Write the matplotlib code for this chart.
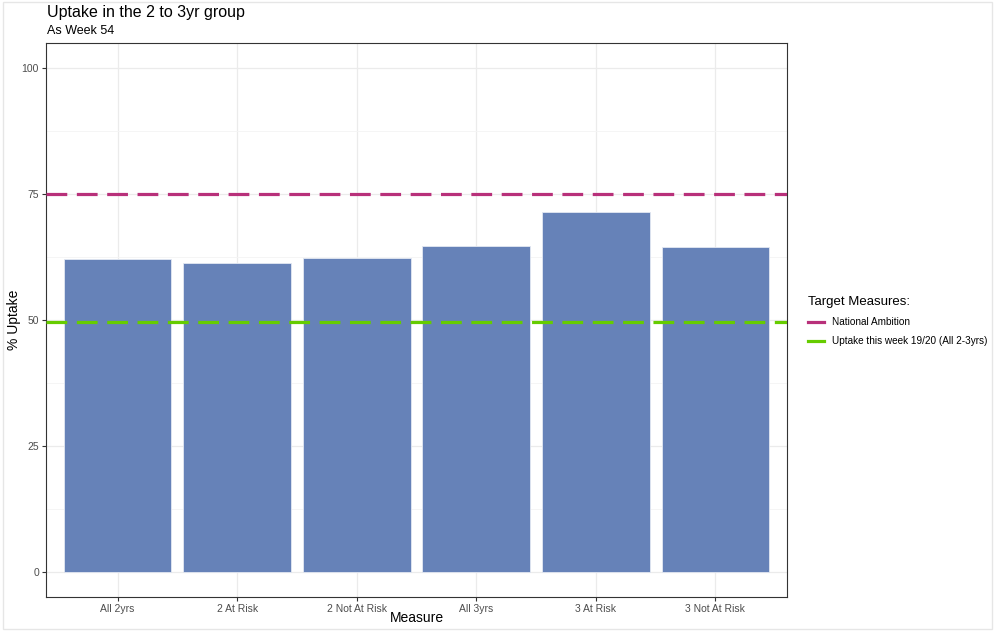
import matplotlib
matplotlib.use('Agg')
import matplotlib.pyplot as plt
from matplotlib.lines import Line2D
from matplotlib.patches import Rectangle

plt.rcParams['font.family'] = ['Liberation Sans', 'DejaVu Sans']

measures = ['All 2yrs', '2 At Risk', '2 Not At Risk', 'All 3yrs', '3 At Risk', '3 Not At Risk']
uptake = [62.2, 61.3, 62.3, 64.7, 71.4, 64.4]
national_ambition = 75
uptake_week_1920 = 49.6
y_ticks = [0, 25, 50, 75, 100]

fig = plt.figure(figsize=(9.95, 6.31), dpi=100)
fig.patches.append(Rectangle((0.003, 0.003), 0.994, 0.994, transform=fig.transFigure,
                             fill=False, edgecolor='#e6e6e6', linewidth=1))
ax = fig.add_axes([0.0462, 0.0539, 0.7448, 0.878])

x = range(len(measures))
ax.bar(x, uptake, width=0.9, color='#6682b8', edgecolor='#e3e8f2', linewidth=0.6, zorder=2)
ax.axhline(national_ambition, color='#b8307a', linewidth=2.3, dashes=(6.5, 3), zorder=3)
ax.axhline(uptake_week_1920, color='#66cc00', linewidth=2.3, dashes=(6.5, 3), zorder=3)

ax.set_xlim(-0.6, 5.6)
ax.set_ylim(-5, 105)
ax.set_xticks(list(x))
ax.set_xticklabels(measures)
ax.set_yticks(y_ticks)
ax.set_yticks([12.5, 37.5, 62.5, 87.5], minor=True)
ax.grid(True, which='major', color='#ebebeb', linewidth=0.9, zorder=0)
ax.grid(True, which='minor', axis='y', color='#f4f4f4', linewidth=0.6, zorder=0)
ax.set_axisbelow(True)
ax.tick_params(axis='both', which='major', labelsize=7.5, colors='#333333', labelcolor='#4d4d4d', length=3, pad=2)
ax.tick_params(axis='y', which='minor', length=0)
for s in ax.spines.values():
    s.set_color('#333333')
    s.set_linewidth(0.8)

ax.set_xlabel('Measure', fontsize=10)
ax.set_ylabel('% Uptake', fontsize=10)
ax.xaxis.set_label_coords(0.5, -0.026)
ax.yaxis.set_label_coords(-0.034, 0.5)

fig.text(0.047, 0.968, 'Uptake in the 2 to 3yr group', fontsize=11.5, va='bottom', ha='left')
fig.text(0.047, 0.942, 'As Week 54', fontsize=9, va='bottom', ha='left')

handles = [Line2D([], [], color='#b8307a', linewidth=2.3),
           Line2D([], [], color='#66cc00', linewidth=2.3)]
leg = fig.legend(handles, ['National Ambition', 'Uptake this week 19/20 (All 2-3yrs)'],
                 title='Target Measures:', loc='upper left', bbox_to_anchor=(0.803, 0.545),
                 frameon=False, fontsize=7.2, title_fontsize=9.5, handlelength=1.6,
                 labelspacing=0.9, alignment='left')

fig.savefig('out.png', dpi=100)
